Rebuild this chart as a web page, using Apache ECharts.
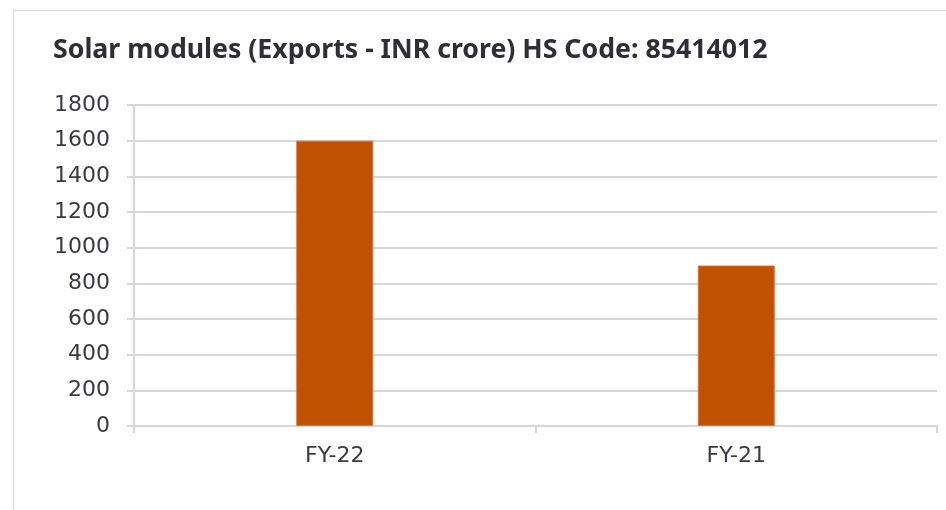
<!DOCTYPE html>
<html>
<head>
<meta charset="utf-8">
<script src="https://cdn.jsdelivr.net/npm/echarts@6/dist/echarts.min.js"></script>
<style>
  html, body { margin: 0; padding: 0; background: #ffffff; }
  #chart { width: 946px; height: 510px; }
</style>
</head>
<body>
<div id="chart"></div>
<script>
const categories = ['FY-22', 'FY-21'];
const exportValues = [1600, 900];
const yTicks = [0, 200, 400, 600, 800, 1000, 1200, 1400, 1600, 1800];

const chart = echarts.init(document.getElementById('chart'));

const axisGray = '#d6d6de';
const textColor = '#3a3a44';

chart.setOption({
    backgroundColor: '#ffffff',
    animation: false,
    title: {
        text: 'Solar modules (Exports - INR crore) HS Code: 85414012',
        left: 48,
        top: 32,
        textStyle: {
            fontFamily: 'Noto Sans',
            fontSize: 26.7,
            fontWeight: 'bold',
            color: '#2e2e38'
        }
    },
    graphic: [
        {
            // light frame around the chart panel
            type: 'rect',
            shape: { x: 13.5, y: 10.5, width: 1000, height: 600 },
            style: { fill: 'none', stroke: '#dcdce2', lineWidth: 1.5 },
            silent: true
        }
    ],
    grid: {
        left: 134,
        right: 9,
        top: 105,
        bottom: 84,
        containLabel: false
    },
    xAxis: {
        type: 'category',
        data: categories,
        boundaryGap: true,
        axisLine: { show: true, lineStyle: { color: axisGray, width: 2 } },
        axisTick: { show: true, length: 7, alignWithLabel: false, lineStyle: { color: axisGray, width: 2 } },
        axisLabel: {
            margin: 19,
            fontFamily: 'DejaVu Sans',
            fontSize: 22,
            color: textColor
        }
    },
    yAxis: {
        type: 'value',
        min: yTicks[0],
        max: yTicks[yTicks.length - 1],
        interval: 200,
        axisLine: { show: true, lineStyle: { color: axisGray, width: 2 } },
        axisTick: { show: true, length: 7, lineStyle: { color: axisGray, width: 2 } },
        splitLine: { show: true, lineStyle: { color: axisGray, width: 2 } },
        axisLabel: {
            margin: 24,
            fontFamily: 'DejaVu Sans',
            fontSize: 22,
            color: textColor,
            formatter: (v) => String(v)
        }
    },
    series: [
        {
            name: 'Exports',
            type: 'bar',
            data: exportValues,
            barWidth: 77,
            itemStyle: {
                color: '#c05100',
                borderColor: '#d8753a',
                borderWidth: 1
            }
        }
    ]
});
</script>
</body>
</html>
